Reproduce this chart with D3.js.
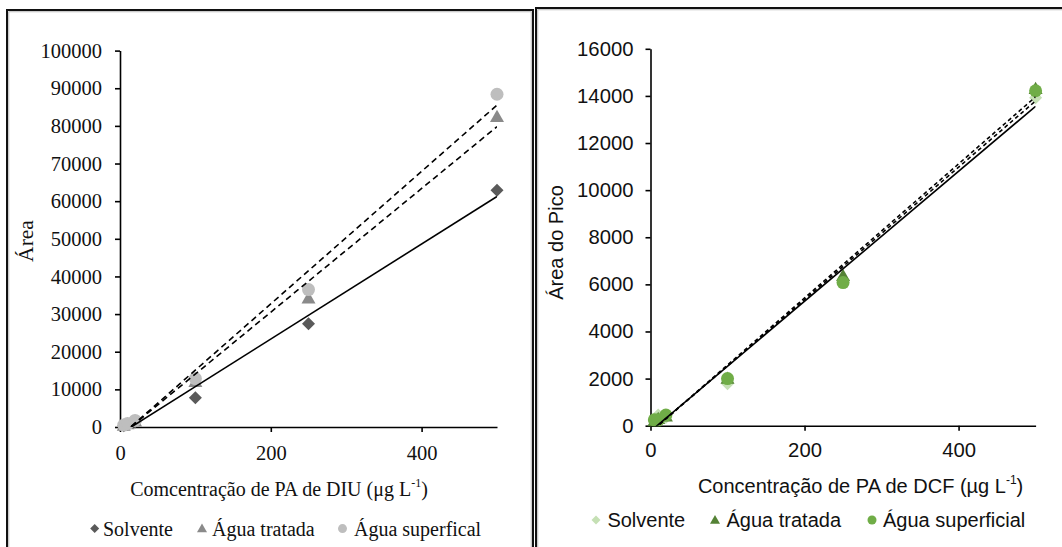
<!DOCTYPE html>
<html><head><meta charset="utf-8">
<script src="https://cdn.jsdelivr.net/npm/d3@7"></script>
<style>html,body{margin:0;padding:0;background:#fff;}svg{display:block;}</style>
</head><body>
<svg id="c" width="1062" height="547"></svg>
<script>
// ---------- data ----------
const seriesNames = ["Solvente", "Água tratada", "Água superfical"];
const seriesNamesDCF = ["Solvente", "Água tratada", "Água superficial"];
const concDIU = [5, 10, 20, 100, 250, 500];
const diuSolvente = [300, 700, 1300, 7800, 27400, 62900];
const diuTratada = [400, 800, 1500, 12000, 34200, 82400];
const diuSuperficial = [500, 900, 1750, 12860, 36500, 88400];
const concDCF = [5, 10, 20, 100, 250, 500];
const dcfSolvente = [300, 450, 350, 1780, 6200, 13925];
const dcfTratada = [200, 300, 400, 2000, 6370, 14300];
const dcfSuperficial = [250, 250, 450, 2000, 6075, 14220];
const xTicks = [0, 200, 400];
const yTicksDIU = [0,10000,20000,30000,40000,50000,60000,70000,80000,90000,100000];
const yTicksDCF = [0,2000,4000,6000,8000,10000,12000,14000,16000];

const svg = d3.select("#c");

function fit(xs, ys){
  const n = xs.length, mx = d3.mean(xs), my = d3.mean(ys);
  let sxy=0, sxx=0;
  for(let i=0;i<n;i++){ sxy += (xs[i]-mx)*(ys[i]-my); sxx += (xs[i]-mx)**2; }
  const b = sxy/sxx; return {b, a: my - b*mx};
}
function markerPath(type, r){
  if(type==="diamond") return `M0,${-r}L${r},0L0,${r}L${-r},0Z`;
  if(type==="triangle") return `M0,${-r}L${r*1.0},${r*0.75}L${-r*1.0},${r*0.75}Z`;
  return d3.arc()({innerRadius:0,outerRadius:r,startAngle:0,endAngle:2*Math.PI});
}

function panel(cfg){
  const g = svg.append("g");
  g.append("rect").attr("x",cfg.frame[0]).attr("y",cfg.frame[1]).attr("width",cfg.frame[2]).attr("height",cfg.frame[3])
    .attr("fill","none").attr("stroke","#111").attr("stroke-width",2);
  g.append("rect").attr("x",cfg.frame[0]+1.8).attr("y",cfg.frame[1]+1.8).attr("width",cfg.frame[2]-3.6).attr("height",cfg.frame[3]-3.6)
    .attr("fill","none").attr("stroke","#aaa").attr("stroke-width",0.8);
  const x = d3.scaleLinear().domain([0,500]).range([cfg.plot[0], cfg.plot[1]]);
  const y = d3.scaleLinear().domain([0,cfg.ymax]).range([cfg.plot[3], cfg.plot[2]]);
  const font = cfg.font;
  // axes
  const ya = g.append("g").attr("transform",`translate(${cfg.plot[0]},0)`)
    .call(d3.axisLeft(y).tickValues(cfg.yTicks).tickSize(5).tickSizeOuter(0).tickPadding(cfg.yPad).tickFormat(d3.format("d")));
  const xa = g.append("g").attr("transform",`translate(0,${cfg.plot[3]})`)
    .call(d3.axisBottom(x).tickValues(xTicks).tickSize(5).tickSizeOuter(0).tickPadding(cfg.xPad).tickFormat(d3.format("d")));
  [ya,xa].forEach(a=>{
    a.select(".domain").attr("stroke","#000").attr("stroke-width",1.6);
    a.selectAll(".tick line").attr("stroke","#000").attr("stroke-width",1.6);
    a.selectAll(".tick text").attr("font-family",font).attr("font-size",cfg.tickSize).attr("fill","#111");
  });
  // clip for trendlines
  const cid = "clip"+cfg.id;
  g.append("clipPath").attr("id",cid).append("rect")
    .attr("x",cfg.plot[0]).attr("y",cfg.plot[2]).attr("width",cfg.plot[1]-cfg.plot[0]).attr("height",cfg.plot[3]-cfg.plot[2]);
  // markers
  cfg.series.forEach((s,i)=>{
    g.append("g").selectAll("path").data(cfg.conc.map((c,j)=>[c,s.vals[j]])).join("path")
      .attr("transform",d=>`translate(${x(d[0])},${y(d[1])})`)
      .attr("d",markerPath(s.type,s.r)).attr("fill",s.color);
  });
  // trendlines
  cfg.series.forEach((s,i)=>{
    const f = fit(cfg.conc, s.vals);
    const x0 = d3.min(cfg.conc), x1 = d3.max(cfg.conc);
    g.append("line").attr("clip-path",`url(#${cid})`)
      .attr("x1",x(x0)).attr("y1",y(f.a+f.b*x0)).attr("x2",x(x1)).attr("y2",y(f.a+f.b*x1))
      .attr("stroke","#000").attr("stroke-width",cfg.lw)
      .attr("stroke-dasharray", s.dash ? cfg.dash : null);
  });
  // axis titles
  g.append("text").attr("transform",`translate(${cfg.ylab[0]},${cfg.ylab[1]}) rotate(-90)`)
    .attr("text-anchor","middle").attr("dy","0.35em").attr("font-family",font).attr("font-size",cfg.ylabSize).attr("fill","#111")
    .text(cfg.ylabText);
  const xt = g.append("text").attr("x",cfg.xlab[0]).attr("y",cfg.xlab[1]).attr("dy","0.35em")
    .attr("text-anchor","middle").attr("font-family",font).attr("font-size",cfg.labSize).attr("fill","#111");
  xt.append("tspan").text(cfg.xlabText);
  xt.append("tspan").attr("font-size",cfg.labSize*0.6).attr("dy","-0.75em").text("-1");
  xt.append("tspan").attr("dy","0.45em").text(")");
  // legend
  cfg.series.forEach((s,i)=>{
    g.append("path").attr("transform",`translate(${cfg.legM[i]},${cfg.legY})`).attr("d",markerPath(s.type,s.lr)).attr("fill",s.color);
    g.append("text").attr("x",cfg.legT[i]).attr("y",cfg.legY).attr("dy","0.35em")
      .attr("font-family",font).attr("font-size",cfg.labSize).attr("fill","#111").text(cfg.names[i]);
  });
}

panel({
  id:"L", frame:[7,10,526,600], plot:[120,497,50.6,427], ymax:100000, yTicks:yTicksDIU,
  font:"Liberation Serif", tickSize:20.5, labSize:20, ylabSize:21.5, yPad:13, xPad:13, lw:1.6, dash:"6,4",
  conc:concDIU, names:seriesNames,
  series:[
    {vals:diuSolvente, type:"diamond", r:6.5, lr:4.5, color:"#5a5a5a", dash:false},
    {vals:diuTratada, type:"triangle", r:7, lr:5, color:"#8a8a8a", dash:true},
    {vals:diuSuperficial, type:"circle", r:6.5, lr:4.5, color:"#bebebe", dash:true}
  ],
  ylab:[25,241], ylabText:"Área",
  xlab:[279,488.5], xlabText:"Comcentração de PA de DIU (μg L",
  legY:528.6, legM:[94.7,202,342.5], legT:[103,212,354]
});

panel({
  id:"R", frame:[536,8,560,600], plot:[650.5,1035.6,48.8,425.7], ymax:16000, yTicks:yTicksDCF,
  font:"Liberation Sans", tickSize:20.3, labSize:20, ylabSize:20, yPad:12, xPad:12, lw:1.6, dash:"4,3",
  conc:concDCF, names:seriesNamesDCF,
  series:[
    {vals:dcfSolvente, type:"diamond", r:6.5, lr:4.5, color:"#c5e0b4", dash:false},
    {vals:dcfTratada, type:"triangle", r:7, lr:5, color:"#548235", dash:true},
    {vals:dcfSuperficial, type:"circle", r:6.5, lr:4.5, color:"#70ad47", dash:true}
  ],
  ylab:[555.5,242.5], ylabText:"Área do Pico",
  xlab:[860.6,486], xlabText:"Concentração de PA de DCF  (µg L",
  legY:520, legM:[596,715,872], legT:[607.4,726.5,883]
});
</script>
</body></html>
